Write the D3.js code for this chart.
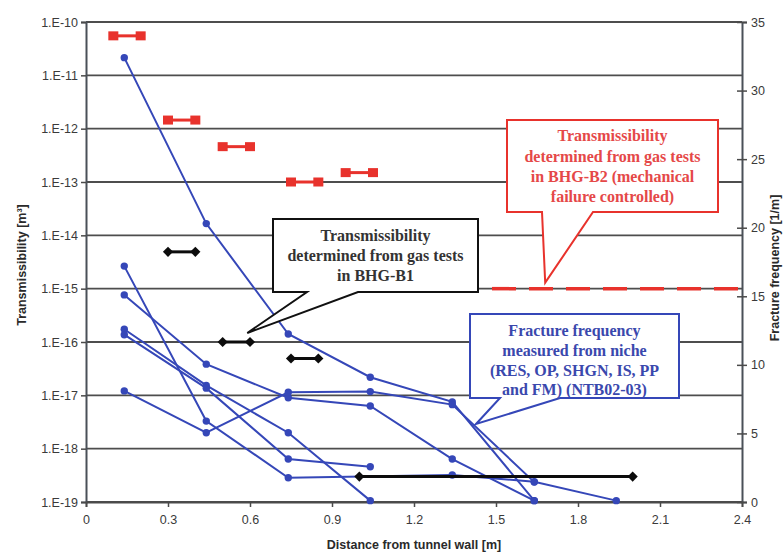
<!DOCTYPE html>
<html>
<head>
<meta charset="utf-8">
<script src="https://cdn.jsdelivr.net/npm/d3@7"></script>
<style>
  html, body { margin: 0; padding: 0; background: #fff; }
  svg { display: block; }
  .tick-label { font-family: "Liberation Sans", Arial, sans-serif; font-size: 12.5px; fill: #3a3a3a; }
  .axis-title { font-family: "Liberation Sans", Arial, sans-serif; font-size: 12.5px; font-weight: bold; fill: #2a2a2a; }
  .note { font-family: "Liberation Serif", "Times New Roman", serif; font-size: 16px; font-weight: bold; }
</style>
</head>
<body>
<svg id="chart" width="784" height="555"></svg>
<script>
// Distances from tunnel wall where fracture frequency was counted [m]
const distances = [0.14, 0.44, 0.74, 1.04, 1.34, 1.64, 1.94];

// Fracture frequency [1/m] per niche log (null = no value at that distance)
const freqRES  = [32.4, 20.3, 12.25, 9.1, 7.3, 0.1, null];
const freqOP   = [17.2, 5.9, 1.77, null, 1.97, 1.48, 0.1];
const freqSHGN = [15.1, 10.05, 7.6, 7.0, 3.13, 0.1, null];
const freqIS   = [12.6, 8.5, 5.05, 0.1, null, null, null];
const freqPP   = [12.2, 8.3, 3.13, 2.57, null, null, null];
const freqFM   = [8.1, 5.05, 8.0, 8.05, 7.1, 1.45, null];

// Gas-test transmissibility intervals in BHG-B2 [m³]
const b2From  = [0.1, 0.3, 0.5, 0.75, 0.95];
const b2To    = [0.2, 0.4, 0.6, 0.85, 1.05];
const b2Value = [5.5e-11, 1.45e-12, 4.6e-13, 1.0e-13, 1.5e-13];

// Mechanical-failure-controlled level in BHG-B2
const b2LimitFrom = [1.5];
const b2LimitTo   = [2.4];
const b2LimitValue = [1e-15];

// Gas-test transmissibility intervals in BHG-B1 [m³]
const b1From  = [0.3, 0.5, 0.75, 1.0];
const b1To    = [0.4, 0.6, 0.85, 2.0];
const b1Value = [4.9e-15, 1.0e-16, 4.9e-17, 3.0e-19];

// Axis ticks
const xTicks = [0, 0.3, 0.6, 0.9, 1.2, 1.5, 1.8, 2.1, 2.4];
const xTickLabels = ["0", "0.3", "0.6", "0.9", "1.2", "1.5", "1.8", "2.1", "2.4"];
const leftTicks = [1e-10, 1e-11, 1e-12, 1e-13, 1e-14, 1e-15, 1e-16, 1e-17, 1e-18, 1e-19];
const leftTickLabels = ["1.E-10", "1.E-11", "1.E-12", "1.E-13", "1.E-14", "1.E-15", "1.E-16", "1.E-17", "1.E-18", "1.E-19"];
const rightTicks = [0, 5, 10, 15, 20, 25, 30, 35];

const freqSeries = [freqRES, freqOP, freqSHGN, freqIS, freqPP, freqFM];

const svg = d3.select("#chart");
const plot = { left: 86, right: 742, top: 22, bottom: 502 };

const x = d3.scaleLinear().domain([0, 2.4]).range([plot.left, plot.right]);
const yT = d3.scaleLog().domain([1e-19, 1e-10]).range([plot.bottom, plot.top]);
const yF = d3.scaleLinear().domain([0, 35]).range([plot.bottom, plot.top]);

const RED = "#e8322c";
const BLUE = "#3547b8";
const GRID = "#4d4d4d";

// Horizontal gridlines at each decade
svg.append("g").selectAll("line").data(leftTicks).join("line")
  .attr("x1", plot.left).attr("x2", plot.right)
  .attr("y1", d => yT(d)).attr("y2", d => yT(d))
  .attr("stroke", GRID).attr("stroke-width", 1.8);

// Left axis
const leftAxis = d3.axisLeft(yT).tickValues(leftTicks)
  .tickFormat((d, i) => leftTickLabels[i]).tickSize(5).tickPadding(3);
const gl = svg.append("g").attr("transform", `translate(${plot.left},0)`).call(leftAxis);
gl.select(".domain").attr("stroke", "#4a5058").attr("stroke-width", 2);
gl.selectAll(".tick line").attr("stroke", "#4a4a4a").attr("stroke-width", 1.5);
gl.selectAll(".tick text").attr("class", "tick-label").attr("font-size", null).attr("font-family", null);

// Right axis (ticks cross the axis line)
const rightAxis = d3.axisRight(yF).tickValues(rightTicks).tickSize(5).tickPadding(4);
const gr = svg.append("g").attr("transform", `translate(${plot.right},0)`).call(rightAxis);
gr.select(".domain").attr("stroke", "#4a5058").attr("stroke-width", 2);
gr.selectAll(".tick line").attr("x1", -5).attr("stroke", "#4a4a4a").attr("stroke-width", 1.5);
gr.selectAll(".tick text").attr("class", "tick-label").attr("font-size", null).attr("font-family", null);

// Bottom axis
const bottomAxis = d3.axisBottom(x).tickValues(xTicks)
  .tickFormat((d, i) => xTickLabels[i]).tickSize(5).tickPadding(8);
const gb = svg.append("g").attr("transform", `translate(0,${plot.bottom})`).call(bottomAxis);
gb.select(".domain").attr("stroke", "#4a4a4a").attr("stroke-width", 1.8);
gb.selectAll(".tick line").attr("stroke", "#4a4a4a").attr("stroke-width", 1.5);
gb.selectAll(".tick text").attr("class", "tick-label").attr("font-size", null).attr("font-family", null);

// Axis titles
svg.append("text").attr("class", "axis-title")
  .attr("x", (plot.left + plot.right) / 2).attr("y", 549).attr("text-anchor", "middle")
  .text("Distance from tunnel wall [m]");
svg.append("text").attr("class", "axis-title")
  .attr("transform", "translate(26,265) rotate(-90)").attr("text-anchor", "middle")
  .text("Transmissibility [m³]");
svg.append("text").attr("class", "axis-title")
  .attr("transform", "translate(779,268) rotate(-90)").attr("text-anchor", "middle")
  .text("Fracture frequency [1/m]");

// Fracture frequency lines (right axis)
const freqLine = d3.line().x(d => x(d[0])).y(d => yF(d[1]));
const gFreq = svg.append("g");
freqSeries.forEach(vals => {
  const pts = distances.map((d, i) => [d, vals[i]]).filter(p => p[1] != null);
  gFreq.append("path").datum(pts).attr("d", freqLine)
    .attr("fill", "none").attr("stroke", BLUE).attr("stroke-width", 2);
  gFreq.selectAll(null).data(pts).join("circle")
    .attr("cx", d => x(d[0])).attr("cy", d => yF(d[1])).attr("r", 3.7)
    .attr("fill", BLUE);
});

// BHG-B2 transmissibility intervals (red squares joined by a bar)
const gB2 = svg.append("g");
b2Value.forEach((v, i) => {
  gB2.append("line")
    .attr("x1", x(b2From[i])).attr("x2", x(b2To[i]))
    .attr("y1", yT(v)).attr("y2", yT(v))
    .attr("stroke", RED).attr("stroke-width", 3);
  [b2From[i], b2To[i]].forEach(d => {
    gB2.append("rect")
      .attr("x", x(d) - 5).attr("y", yT(v) - 4.5)
      .attr("width", 10).attr("height", 9).attr("fill", RED);
  });
});

// Mechanical-failure-controlled level (dashed red)
b2LimitValue.forEach((v, i) => {
  svg.append("line")
    .attr("x1", x(b2LimitFrom[i]) - 4).attr("x2", x(b2LimitTo[i]))
    .attr("y1", yT(v)).attr("y2", yT(v))
    .attr("stroke", RED).attr("stroke-width", 3.5)
    .attr("stroke-dasharray", "24,13");
});

// BHG-B1 transmissibility intervals (black diamonds joined by a bar)
const gB1 = svg.append("g");
const diamond = d3.symbol().type(d3.symbolDiamond2).size(66);
b1Value.forEach((v, i) => {
  gB1.append("line")
    .attr("x1", x(b1From[i])).attr("x2", x(b1To[i]))
    .attr("y1", yT(v)).attr("y2", yT(v))
    .attr("stroke", "#0c0c0c").attr("stroke-width", 3);
  [b1From[i], b1To[i]].forEach(d => {
    gB1.append("path").attr("d", diamond)
      .attr("transform", `translate(${x(d)},${yT(v)})`)
      .attr("fill", "#0c0c0c");
  });
});

// Callout boxes with pointers
function callout(box, base, tip, stroke, textColor, lines, lineY) {
  const [x0, y0, x1, y1] = box;
  const p = d3.path();
  p.moveTo(x0, y0); p.lineTo(x1, y0); p.lineTo(x1, y1);
  p.lineTo(base[1], y1); p.lineTo(tip[0], tip[1]); p.lineTo(base[0], y1);
  p.lineTo(x0, y1); p.closePath();
  svg.append("path").attr("d", p.toString())
    .attr("fill", "#fff").attr("stroke", stroke).attr("stroke-width", 2)
    .attr("stroke-linejoin", "miter");
  const cx = (x0 + x1) / 2;
  lines.forEach((t, i) => {
    svg.append("text").attr("class", "note")
      .attr("x", cx).attr("y", lineY[i]).attr("text-anchor", "middle")
      .attr("dominant-baseline", "middle").attr("fill", textColor).text(t);
  });
}

callout([273, 219, 478, 292], [307, 358], [x(0.59), yT(1e-16) - 9], "#111", "#333",
  ["Transmissibility", "determined from gas tests", "in BHG-B1"], [237, 257, 277]);

callout([507, 120, 718, 212], [542, 593], [x(1.68), yT(1e-15) - 6], RED, "#e54848",
  ["Transmissibility", "determined from gas tests", "in BHG-B2 (mechanical", "failure controlled)"],
  [137, 158, 178, 198]);

callout([470, 314, 679, 398], [500, 560], [476, 424], BLUE, "#3a48ad",
  ["Fracture frequency", "measured from niche", "(RES, OP, SHGN, IS, PP", "and FM) (NTB02-03)"],
  [332, 352, 372, 391]);
</script>
</body>
</html>
